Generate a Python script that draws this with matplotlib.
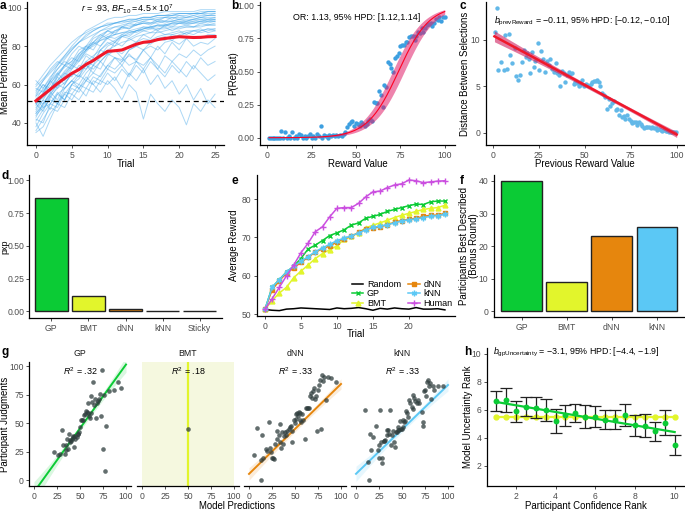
import matplotlib
matplotlib.use('Agg')
import matplotlib.pyplot as plt
import numpy as np

plt.rcParams['font.family'] = ['Liberation Sans', 'DejaVu Sans']
plt.rcParams['mathtext.fontset'] = 'custom'
plt.rcParams['mathtext.rm'] = 'Liberation Sans'
plt.rcParams['mathtext.it'] = 'Liberation Sans:italic'
plt.rcParams['mathtext.bf'] = 'Liberation Sans:bold'

# ---- colours
C_GP = '#0BCB35'
C_BMT = '#E2F52C'
C_DNN = '#E6860D'
C_KNN = '#5BC8F5'
C_HUM = '#CB4FE0'
C_RED = '#F0182A'

# ---- panel a: individual learning curves + mean
trials_a = list(range(26))
subject_curves = [
    [52, 58, 63, 70, 75, 80, 84, 88, 90, 92, 94, 95, 95, 96, 96, 97, 97, 97, 98, 98, 98, 98, 98, 99, 99, 99],
    [45, 50, 55, 60, 66, 70, 74, 78, 82, 85, 88, 90, 91, 92, 93, 94, 94, 95, 95, 96, 96, 96, 97, 97, 97, 97],
    [55, 60, 58, 65, 70, 72, 78, 80, 85, 88, 90, 92, 93, 93, 94, 95, 95, 96, 96, 96, 97, 97, 97, 97, 98, 98],
    [38, 45, 50, 48, 55, 60, 63, 68, 72, 75, 80, 82, 85, 86, 88, 89, 90, 91, 91, 92, 92, 93, 93, 93, 94, 94],
    [60, 65, 70, 74, 78, 82, 85, 87, 89, 90, 91, 92, 92, 93, 93, 94, 94, 94, 95, 95, 95, 95, 95, 96, 96, 96],
    [48, 52, 47, 55, 58, 62, 60, 66, 70, 68, 75, 78, 76, 80, 82, 84, 83, 85, 86, 86, 87, 88, 88, 88, 89, 89],
    [42, 40, 50, 55, 52, 60, 65, 62, 70, 74, 78, 80, 82, 83, 85, 86, 87, 87, 88, 89, 89, 90, 90, 90, 91, 91],
    [50, 55, 62, 58, 65, 70, 68, 75, 72, 78, 82, 80, 85, 84, 86, 88, 87, 89, 90, 88, 90, 91, 90, 92, 91, 92],
    [35, 38, 45, 50, 55, 52, 58, 62, 60, 65, 70, 68, 72, 75, 73, 78, 80, 78, 82, 83, 81, 84, 85, 84, 86, 86],
    [56, 62, 68, 72, 70, 76, 80, 78, 84, 86, 88, 87, 90, 89, 91, 92, 91, 93, 92, 93, 94, 93, 94, 95, 94, 95],
    [44, 48, 52, 50, 56, 55, 60, 58, 64, 62, 68, 66, 70, 65, 72, 70, 74, 68, 75, 72, 76, 74, 78, 75, 78, 80],
    [52, 50, 55, 60, 58, 62, 66, 70, 68, 72, 76, 74, 73, 78, 80, 82, 81, 84, 85, 83, 86, 87, 86, 88, 89, 88],
    [47, 55, 60, 66, 62, 68, 72, 76, 74, 80, 84, 82, 86, 85, 88, 90, 89, 91, 90, 92, 93, 92, 93, 94, 93, 94],
    [40, 33, 42, 50, 48, 55, 52, 58, 56, 62, 60, 64, 58, 66, 62, 68, 60, 65, 58, 62, 55, 60, 52, 58, 50, 55],
    [58, 56, 62, 66, 70, 74, 72, 78, 82, 80, 85, 84, 86, 88, 87, 89, 90, 88, 91, 90, 92, 91, 92, 93, 92, 93],
    [50, 54, 58, 62, 66, 64, 70, 68, 74, 72, 76, 78, 74, 70, 72, 68, 74, 70, 66, 72, 68, 64, 70, 66, 62, 65],
    [62, 58, 64, 68, 72, 70, 76, 80, 82, 86, 84, 88, 90, 89, 92, 93, 92, 94, 93, 95, 94, 95, 96, 95, 96, 96],
    [36, 42, 48, 46, 52, 58, 56, 62, 66, 64, 70, 74, 72, 78, 80, 78, 82, 84, 83, 86, 85, 87, 88, 87, 88, 89],
    [54, 60, 56, 64, 60, 66, 64, 70, 66, 72, 68, 74, 70, 76, 72, 78, 74, 80, 76, 82, 78, 84, 80, 82, 81, 84],
    [46, 52, 58, 64, 70, 68, 74, 80, 78, 84, 88, 86, 90, 92, 91, 93, 94, 93, 95, 94, 96, 95, 96, 97, 96, 97],
    [50, 46, 54, 50, 58, 62, 58, 64, 60, 56, 62, 58, 52, 60, 56, 42, 55, 50, 46, 52, 48, 39, 50, 46, 52, 48],
    [53, 48, 50, 56, 52, 60, 58, 54, 62, 60, 66, 62, 68, 64, 70, 66, 72, 68, 64, 70, 66, 72, 68, 74, 70, 72],
    [43, 50, 56, 52, 60, 66, 64, 72, 70, 78, 76, 82, 80, 84, 82, 86, 84, 88, 86, 87, 88, 86, 88, 89, 87, 88],
    [57, 62, 66, 70, 74, 78, 82, 86, 88, 90, 92, 92, 93, 94, 94, 95, 95, 96, 96, 96, 97, 97, 97, 97, 98, 98],
    [49, 56, 62, 68, 73, 78, 82, 85, 88, 90, 91, 92, 93, 94, 94, 95, 95, 96, 96, 97, 97, 97, 97, 98, 98, 98],
    [41, 47, 53, 59, 64, 69, 73, 77, 81, 84, 86, 88, 89, 90, 91, 92, 92, 93, 93, 93, 94, 94, 94, 95, 95, 95],
    [59, 63, 67, 71, 75, 79, 82, 84, 86, 88, 89, 90, 90, 91, 91, 92, 92, 92, 93, 93, 93, 93, 94, 94, 94, 94],
    [51, 53, 57, 62, 67, 71, 75, 78, 80, 83, 85, 86, 87, 88, 89, 90, 90, 91, 91, 92, 92, 92, 92, 93, 93, 93],
    [45, 49, 54, 58, 61, 65, 68, 72, 75, 78, 81, 83, 85, 87, 88, 89, 90, 90, 91, 91, 92, 92, 92, 92, 93, 93],
    [54, 57, 61, 65, 69, 72, 76, 79, 81, 83, 84, 86, 87, 87, 88, 88, 89, 89, 89, 90, 90, 90, 90, 91, 91, 91],
]
mean_curve = [51.5, 54.5, 57.5, 60.5, 63.2, 65.8, 67.8, 70.5, 72.5, 75.0, 77.3, 77.6, 78.0, 79.5,
              81.0, 82.0, 82.4, 83.4, 84.0, 84.5, 84.9, 84.7, 84.5, 84.6, 84.9, 85.0]
chance_a = 51.6

# ---- panel b: P(repeat) vs reward
reward_b = list(range(1, 101))
prepeat_b = [0, 0, 0, 0, 0, 0, 0, 0.05, 0, 0.04, 0, 0.01, 0, 0.04, 0, 0.01, 0, 0.03, 0.02, 0,
             0.01, 0, 0.01, 0.03, 0, 0.01, 0, 0.03, 0.01, 0.09, 0, 0.02, 0.01, 0, 0.02, 0.01, 0.02, 0.01, 0.02, 0.01,
             0.02, 0.01, 0.03, 0.04, 0.08, 0.10, 0.12, 0.13, 0.09, 0.11, 0.10, 0.09, 0.12, 0.10, 0.09, 0.10, 0.13, 0.14, 0.13, 0.27,
             0.26, 0.26, 0.35, 0.32, 0.23, 0.40, 0.38, 0.57, 0.56, 0.53, 0.50, 0.60, 0.62, 0.64, 0.69, 0.70, 0.70, 0.72, 0.72, 0.76,
             0.77, 0.77, 0.74, 0.77, 0.80, 0.79, 0.83, 0.80, 0.83, 0.85, 0.86, 0.87, 0.84, 0.87, 0.90, 0.89, 0.91, 0.88, 0.91, 0.91]
b_intercept, b_slope, b_ci = -8.5, 0.115, 0.38

# ---- panel c: distance vs previous reward
prev_reward_c = [1.5, 2.4, 3, 4.5, 6, 6.5, 8, 8.7, 9.6, 10.5, 12.3, 12.7, 13.8, 15, 16, 17, 18, 18.7, 19.6, 20.5,
                 21.4, 22.3, 23.2, 24.5, 25.4, 26.3, 27.4, 28.3, 29.6, 30.5, 31.4, 32.3, 33.2, 34.3, 35, 36, 36.8, 37.7, 38.7, 39.6,
                 40.5, 41.4, 42.3, 43.2, 44.1, 45, 46, 46.8, 47.7, 48.6, 49.5, 50.5, 51.4, 52.3, 53.2, 54, 55, 56, 56.8, 57.7,
                 58.6, 59.5, 60.4, 61.3, 62.2, 63.2, 64, 65, 65.9, 66.8, 67.7, 68.6, 69.5, 70.4, 71.3, 72.2, 73.1, 74, 75, 75.9,
                 76.8, 77.7, 78.6, 79.5, 80.4, 81.3, 82.2, 83.1, 84, 85, 85.8, 86.8, 87.7, 88.6, 89.5, 90.4, 91.3, 92.2, 93.1, 94,
                 95, 95.8, 96.7, 97.6, 98.5, 99.5]
distance_c = [10.9, 13.5, 6.8, 7.6, 6.8, 10.5, 6.9, 10.7, 8.4, 7.5, 9.1, 6.1, 5.7, 6.2, 7.6, 8.9, 8.2, 8.6, 7.9, 6.4,
              8.7, 7.1, 7.7, 9.7, 6.8, 8.8, 8.0, 6.6, 7.7, 7.3, 8.0, 6.9, 6.6, 7.5, 6.4, 6.2, 5.0, 6.7, 6.4, 5.5,
              6.2, 6.6, 6.3, 6.4, 5.3, 5.5, 5.4, 5.0, 5.1, 5.7, 5.0, 5.3, 5.1, 5.0, 5.3, 5.5, 5.6, 5.6, 5.7, 5.5,
              5.0, 4.3, 4.1, 3.9, 2.6, 3.6, 2.9, 3.2, 3.4, 2.5, 2.6, 1.9, 2.5, 1.7, 1.8, 1.5, 1.9, 1.5, 1.3, 1.0,
              1.2, 1.1, 0.8, 1.2, 0.9, 0.7, 0.5, 0.65, 0.6, 0.65, 0.5, 0.6, 0.5, 0.5, 0.3, 0.35, 0.3, 0.2, 0.3, 0.2,
              0.2, 0.1, 0.1, 0.1, 0.1, 0.1]
c_intercept, c_slope = 10.5, -0.107

# ---- panel d: protected exceedance probabilities
models_d = ['GP', 'BMT', 'dNN', 'kNN', 'Sticky']
pxp_d = [0.865, 0.115, 0.022, 0.002, 0.002]
colors_d = [C_GP, C_BMT, C_DNN, C_KNN, '#FFFFFF']

# ---- panel e: average reward per trial
trials_e = list(range(26))
reward_random = [51.2, 51.0, 50.9, 51.3, 51.4, 51.6, 51.5, 51.4, 51.3, 51.2, 51.6, 51.4, 51.5, 51.7, 51.4, 51.0,
                 51.5, 51.3, 51.6, 51.4, 51.3, 51.7, 51.3, 51.3, 51.4, 51.1]
reward_gp = [51.2, 57.0, 59.0, 61.0, 62.5, 64.5, 67.0, 68.0, 69.2, 70.5, 71.2, 72.0, 73.2, 73.8, 75.0, 75.5,
             76.0, 76.8, 77.3, 77.8, 78.3, 78.7, 78.6, 79.3, 79.5, 79.5]
reward_bmt = [51.2, 53.5, 55.5, 57.0, 59.5, 61.2, 62.8, 64.5, 65.8, 66.8, 67.8, 69.5, 70.3, 71.2, 72.5, 73.2,
              73.8, 74.5, 75.2, 75.8, 76.3, 76.8, 77.3, 77.6, 77.8, 78.4]
reward_dnn = [51.2, 56.3, 58.7, 60.7, 62.0, 63.5, 64.8, 66.2, 67.0, 67.8, 68.8, 69.7, 70.3, 71.3, 72.2, 72.5,
              72.8, 73.3, 74.0, 74.4, 74.7, 75.0, 75.5, 75.8, 75.8, 76.3]
reward_knn = [51.2, 57.0, 59.0, 61.0, 62.5, 63.8, 65.0, 66.3, 67.3, 68.2, 69.2, 69.8, 70.4, 71.2, 72.0, 72.6,
              73.0, 73.3, 73.8, 74.3, 74.6, 74.8, 75.2, 75.5, 75.7, 76.0]
reward_human = [51.2, 54.0, 57.0, 60.0, 62.8, 66.0, 68.5, 71.5, 72.8, 75.4, 77.6, 77.8, 77.8, 78.9, 80.6, 81.9,
                82.1, 83.0, 83.7, 84.0, 85.0, 84.8, 84.3, 84.5, 84.7, 84.8]

# ---- panel f: participants best described
models_f = ['GP', 'BMT', 'dNN', 'kNN']
counts_f = [40, 9, 23, 26]
colors_f = [C_GP, C_BMT, C_DNN, C_KNN]

# ---- panel g: model predictions vs participant judgments
gp_pred = [21.8, 26.2, 28.7, 30.5, 31.6, 33.5, 34.5, 35.3, 36.4, 37.1, 37.8, 38.9, 39.6, 40.7, 41.5, 42.2, 42.9, 43.6,
           44.4, 45.1, 46.2, 47.3, 48.0, 48.7, 49.8, 50.9, 52.0, 53.1, 54.2, 55.3, 56.4, 57.1, 58.2, 58.9, 60.0, 60.7,
           61.5, 62.5, 63.3, 64.0, 65.1, 66.2, 66.9, 68.0, 69.1, 70.2, 71.6, 72.7, 74.2, 74.5, 75.6, 77.5, 78.2, 81.8,
           86.9, 91.6, 94.2]
gp_judg = [24.9, 22.0, 22.9, 44.4, 31.2, 22.9, 30.7, 26.4, 35.8, 27.2, 40.7, 33.5, 35.0, 34.1, 36.4, 38.4, 37.5, 29.2,
           38.7, 36.4, 37.8, 40.4, 40.7, 42.1, 46.4, 53.0, 53.0, 53.0, 57.0, 57.9, 60.7, 60.2, 58.7, 67.3, 56.4, 54.2,
           59.3, 74.2, 68.8, 86.5, 65.6, 71.6, 54.4, 67.3, 69.3, 71.3, 75.6, 56.4, 97.1, 26.9, 74.8, 8.3, 47.6, 78.5,
           79.4, 85.7, 80.8]
bmt_pred = [50.0]
bmt_judg = [45.0]
dnn_pred = [5.4, 9.0, 12.6, 12.9, 14.4, 15.5, 18.0, 19.8, 21.9, 22.7, 23.7, 25.2, 26.3, 27.3, 28.8, 29.9, 30.9, 32.4,
            33.5, 34.2, 35.3, 36.3, 37.1, 38.1, 39.6, 40.6, 41.7, 43.2, 44.2, 45.3, 46.4, 47.1, 48.6, 49.6, 50.7, 51.4,
            52.5, 53.2, 54.0, 55.0, 55.8, 56.8, 57.9, 58.6, 60.4, 61.5, 62.9, 64.0, 65.1, 65.8, 66.9, 68.3, 69.4, 70.5,
            71.9, 73.0, 73.7, 74.8, 75.9, 77.3, 78.4, 79.5, 80.9, 82.0, 83.8, 85.6, 89.2, 94.6]
dnn_judg = [22.0, 45.8, 17.8, -0.3, 39.8, 19.8, 27.2, 25.5, 50.7, 27.8, 24.4, 19.2, 19.2, 18.6, 32.1, 42.7, 36.4, 39.3,
            33.5, 49.3, 27.8, 42.1, 32.1, 38.7, 42.1, 39.8, 42.7, 45.0, 46.4, 47.9, 43.0, 33.5, 53.0, 50.1, 57.9, 53.6,
            59.3, 56.4, 59.9, 53.0, 58.5, 50.7, 57.9, 53.0, 35.8, 63.6, 63.6, 63.6, 63.6, 73.6, 76.5, 72.2, 77.9, 80.8,
            70.8, 73.6, 42.7, 79.4, 83.7, 88.0, 45.0, 92.3, 87.4, 90.8, 70.5, 90.8, 90.0, 85.7]
knn_pred = [10.1, 12.6, 14.0, 14.7, 16.2, 18.3, 21.6, 23.4, 24.5, 25.2, 26.3, 27.3, 28.1, 28.8, 29.9, 30.9, 32.0, 33.5,
            34.2, 35.3, 36.3, 37.1, 38.1, 39.2, 39.9, 41.0, 42.1, 43.2, 44.2, 45.3, 46.0, 47.1, 47.8, 48.9, 49.6, 50.7,
            51.4, 52.5, 53.6, 54.7, 55.8, 56.8, 57.9, 59.0, 60.4, 61.5, 62.2, 63.3, 64.4, 65.8, 66.9, 68.7, 71.2, 72.3,
            73.0, 74.1, 75.2, 75.9, 77.3, 78.4, 79.5, 80.2, 82.0, 83.8, 84.9, 89.2, 94.6]
knn_judg = [61.6, 16.3, -0.3, 40.7, 26.4, 38.1, 47.9, 26.4, 30.7, 19.2, 61.6, 33.5, 14.9, 19.2, 34.1, 34.1, 35.0, 39.3,
            44.4, 44.4, 40.7, 61.6, 31.2, 39.3, 42.7, 33.5, 29.2, 42.1, 42.1, 43.6, 46.4, 43.6, 52.1, 45.0, 45.0, 53.0,
            46.4, 51.3, 52.1, 60.7, 59.3, 55.0, 69.9, 67.9, 64.5, 62.2, 75.1, 72.2, 69.3, 67.9, 70.2, 67.9, 59.9, 47.9,
            50.7, 77.9, 79.4, 74.2, 85.7, 88.0, 82.2, 85.1, 70.8, 82.2, 79.4, 82.8, 82.2]
# fitted line: intercept, slope, half width of ribbon at the ends
fits_g = {'GP': (-10.5, 1.12, 8.0), 'dNN': (5.4, 0.79, 5.0), 'kNN': (5.5, 0.78, 6.0)}
r2_g = {'GP': '.32', 'BMT': '.18', 'dNN': '.33', 'kNN': '.33'}

# ---- panel h: confidence rank vs model uncertainty rank
conf_rank = [1, 1.5, 2, 2.5, 3, 3.5, 4, 4.5, 5, 5.5, 6, 6.5, 7, 7.5, 8, 8.5, 9, 9.5, 10]
unc_rank = [6.6, 6.7, 5.9, 6.2, 6.15, 6.0, 5.2, 5.6, 5.75, 5.5, 5.5, 5.27, 5.27, 5.6, 4.87, 4.85, 4.45, 5.08, 3.47]
unc_err = [0.73, 0.85, 0.75, 0.67, 0.75, 0.78, 0.85, 0.75, 0.62, 0.8, 0.75, 0.67, 0.67, 0.77, 0.78, 0.82, 0.7, 0.88, 0.7]
h_intercept, h_slope = 6.79, -0.239
random_rank = 5.5

W, H = 685, 512
fig = plt.figure(figsize=(W / 100, H / 100), dpi=100)

LAB = 6.9    # axis titles
TICK = 6.2   # tick labels
ANN = 6.4    # annotations


def px_axes(l, t, r, b):
    ax = fig.add_axes([l / W, 1 - b / H, (r - l) / W, (b - t) / H])
    ax.px = (l, t, r, b)
    return ax


def classic(ax, left=True):
    ax.spines['top'].set_visible(False)
    ax.spines['right'].set_visible(False)
    ax.spines['bottom'].set_linewidth(0.9)
    ax.spines['left'].set_linewidth(0.9)
    ax.tick_params(direction='out', length=2.5, width=0.6, labelsize=TICK,
                   labelcolor='#4D4D4D', color='#333333', pad=1.5)
    if not left:
        ax.spines['left'].set_visible(False)
        ax.tick_params(axis='y', left=False, labelleft=False)


def ylab(ax, text, xpx, **kw):
    # xpx = right edge of the rotated label, in pixels
    l, t, r, b = ax.px
    kw.setdefault('fontsize', LAB)
    ax.set_ylabel(text, **kw)
    ax.yaxis.set_label_coords((xpx - l) / (r - l), 0.5)


def xlab(ax, text, ypx):
    # ypx = top edge of the label, in pixels
    l, t, r, b = ax.px
    ax.set_xlabel(text, fontsize=LAB)
    ax.xaxis.set_label_coords(0.5, (b - ypx) / (b - t))


def letter(x, y, s):
    fig.text(x / W, 1 - y / H, s, fontsize=8.5, fontweight='bold', ha='left', va='center')


# ---------------- a
ax = px_axes(27, 2, 224, 145)
classic(ax)
for curve in subject_curves:
    ax.plot(trials_a, curve, color='#3AA2E8', alpha=0.42, lw=0.7)
ax.axhline(chance_a, color='black', ls=(0, (4, 3)), lw=0.9)
ax.plot(trials_a, mean_curve, color=C_RED, lw=2.2)
ax.set_xlim(-1.25, 26.25)
ax.set_ylim(28.5, 103)
ax.set_xticks([0, 5, 10, 15, 20, 25])
ax.set_yticks([40, 60, 80, 100])
xlab(ax, 'Trial', 159)
ylab(ax, 'Mean Performance', 10)
ax.text(12.8, 99.5, r'$r$ = .93, $BF_{10} = 4.5\times10^{7}$', fontsize=ANN, ha='center', va='center')
letter(0, 6, 'a')

# ---------------- b
ax = px_axes(260, 2, 455, 145)
classic(ax)
ax.scatter(reward_b, prepeat_b, s=10, color='#3D9FE0', linewidths=0, zorder=2)
xs = np.linspace(1, 100, 200)
p_mid = 1 / (1 + np.exp(-(b_intercept + b_slope * xs)))
p_lo = 1 / (1 + np.exp(-(b_intercept - b_ci + b_slope * xs)))
p_hi = 1 / (1 + np.exp(-(b_intercept + b_ci + b_slope * xs)))
ax.fill_between(xs, p_lo, p_hi, color='#E0206A', alpha=0.55, lw=0, zorder=3)
ax.plot(xs, p_mid, color='#FF0022', lw=0.8, zorder=4)
ax.set_xlim(-4.1, 105.8)
ax.set_ylim(-0.055, 1.025)
ax.set_xticks([0, 25, 50, 75, 100])
ax.set_yticks([0, 0.25, 0.5, 0.75, 1.0])
ax.set_yticklabels(['0.00', '0.25', '0.50', '0.75', '1.00'])
xlab(ax, 'Reward Value', 159)
ylab(ax, 'P(Repeat)', 238)
ax.text(50.5, 0.905, 'OR: 1.13, 95% HPD: [1.12,1.14]', fontsize=ANN, ha='center', va='center')
letter(231, 6, 'b')

# ---------------- c
ax = px_axes(486, 2, 684, 145)
classic(ax)
ax.scatter(prev_reward_c, distance_c, s=10, color='#62B8E8', linewidths=0, zorder=2)
xs = np.linspace(1, 100, 100)
line_c = c_intercept + c_slope * xs
hw = 0.2 + 0.4 * ((xs - 65) / 65) ** 2
ax.fill_between(xs, line_c - hw, line_c + hw, color='#D02060', alpha=0.6, lw=0, zorder=3)
ax.plot(xs, line_c, color=C_RED, lw=1.8, zorder=4)
ax.set_xlim(-3.6, 104)
ax.set_ylim(-1.33, 14.1)
ax.set_xticks([0, 25, 50, 75, 100])
ax.set_yticks([0, 5, 10])
xlab(ax, 'Previous Reward Value', 159)
ylab(ax, 'Distance Between Selections', 470)
ax.text(0.8, 12.05, r'$b_{\mathrm{prevReward}}$ = −0.11, 95% HPD: [−0.12, −0.10]', fontsize=ANN,
        ha='left', va='center')
letter(459, 6, 'c')

# ---------------- d
ax = px_axes(29, 175, 222, 318)
classic(ax)
ax.tick_params(axis='y', pad=0.6)
ax.bar(range(1, 6), pxp_d, width=0.9, color=colors_d, edgecolor='#222222', linewidth=1)
ax.set_xlim(0.4, 5.6)
ax.set_ylim(-0.05, 1.04)
ax.set_xticks(range(1, 6))
ax.set_xticklabels(models_d)
ax.set_yticks([0, 0.25, 0.5, 0.75, 1.0])
ax.set_yticklabels(['0.00', '0.25', '0.50', '0.75', '1.00'])
ylab(ax, 'pxp', 9.5, fontsize=6.5)
letter(1, 176, 'd')

# ---------------- e
ax = px_axes(257, 175, 455, 316)
classic(ax)
ax.plot(trials_e, reward_random, color='black', lw=1.1, label='Random')
ax.plot(trials_e, reward_gp, color=C_GP, lw=1.1, marker='x', ms=3, mew=1, label='GP')
ax.plot(trials_e, reward_bmt, color=C_BMT, lw=1.1, marker='^', ms=3.5, label='BMT')
ax.plot(trials_e, reward_dnn, color=C_DNN, lw=1.1, marker='s', ms=3.5, label='dNN')
ax.plot(trials_e, reward_knn, color=C_KNN, lw=1.1, marker=(6, 2, 0), ms=4, mew=1, label='kNN')
ax.plot(trials_e, reward_human, color=C_HUM, lw=1.1, marker='+', ms=5, mew=1, label='Human')
ax.set_xlim(-1.1, 26.4)
ax.set_ylim(49.5, 86.3)
ax.set_xticks([0, 5, 10, 15, 20])
ax.set_yticks([50, 60, 70, 80])
xlab(ax, 'Trial', 329)
ylab(ax, 'Average Reward', 239)
ax.legend(ncol=2, loc='lower right', bbox_to_anchor=(1.03, 0.0), frameon=False, fontsize=6.5,
          handlelength=1.3, columnspacing=0.8, labelspacing=0.05, handletextpad=0.4)
letter(231, 181, 'e')

# ---------------- f
ax = px_axes(494, 175, 684, 317)
classic(ax)
ax.bar(range(1, 5), counts_f, width=0.9, color=colors_f, edgecolor='#222222', linewidth=1)
ax.set_xlim(0.39, 4.6)
ax.set_ylim(-1.7, 41.8)
ax.set_xticks(range(1, 5))
ax.set_xticklabels(models_f)
ax.set_yticks([0, 10, 20, 30, 40])
ylab(ax, 'Participants Best Described\n(Bonus Round)', 479, linespacing=0.95)
letter(460, 181, 'f')

# ---------------- g
G_TOP, G_BOT = 362, 486
facets = [('GP', gp_pred, gp_judg, C_GP, 29.4), ('BMT', bmt_pred, bmt_judg, C_BMT, 137.4),
          ('dNN', dnn_pred, dnn_judg, C_DNN, 244.4), ('kNN', knn_pred, knn_judg, C_KNN, 351.4)]
for name, xp, yj, col, left in facets:
    ax = px_axes(left, G_TOP, left + 101.2, G_BOT)
    classic(ax, left=(name == 'GP'))
    if name == 'BMT':
        ax.axvspan(0, 100, color='#F5F8DF', lw=0, zorder=0)
        ax.axvline(50, color=col, lw=1.6, zorder=2)
    else:
        b0, b1, hw_end = fits_g[name]
        xs = np.linspace(0, 100, 100)
        yl = b0 + b1 * xs
        hw = 2.5 + (hw_end - 2.5) * ((xs - 55) / 50) ** 2
        ax.fill_between(xs, yl - hw, yl + hw, color=col, alpha=0.15, lw=0, zorder=1)
        ax.plot(xs, yl, color=col, lw=1.4, zorder=2)
    ax.scatter(xp, yj, s=11, color='#2F3D3D', alpha=0.75, linewidths=0, zorder=3)
    ax.set_xlim(-5, 105)
    ax.set_ylim(-5.2, 103.7)
    ax.set_xticks([0, 25, 50, 75, 100])
    ax.set_yticks([0, 25, 50, 75, 100])
    ax.text(50, 96, r'$R^2$ = ' + r2_g[name], fontsize=ANN, ha='center', va='center', zorder=4)
    ax.text(0.5, 1.065, name, transform=ax.transAxes, fontsize=6.3, color='#1A1A1A',
            ha='center', va='center')
    if name == 'GP':
        ylab(ax, 'Participant Judgments', 10)
fig.text(237 / W, 1 - 506 / H, 'Model Predictions', fontsize=LAB, ha='center', va='center')
letter(1, 352, 'g')

# ---------------- h
ax = px_axes(487, 348, 684, G_BOT)
classic(ax)
ax.plot(conf_rank, [random_rank] * len(conf_rank), color=C_BMT, lw=1.6, marker='o', ms=3.5, zorder=2)
ax.errorbar(conf_rank, unc_rank, yerr=unc_err, fmt='none', ecolor='#222222', elinewidth=0.9,
            capsize=4, capthick=0.9, zorder=3)
xs = np.array([1, 10])
ax.plot(xs, h_intercept + h_slope * xs, color=C_GP, lw=1.6, zorder=4)
ax.scatter(conf_rank, unc_rank, s=18, color=C_GP, linewidths=0, zorder=5)
ax.set_xlim(0.55, 10.47)
ax.set_ylim(0.55, 10.4)
ax.set_xticks([2, 4, 6, 8, 10])
ax.set_yticks([2, 4, 6, 8, 10])
xlab(ax, 'Participant Confidence Rank', 501)
ylab(ax, 'Model Uncertainty Rank', 473)
ax.text(0.85, 10.05, r'$b_{\mathrm{gpUncertainty}}$ = −3.1, 95% HPD: [−4.4, −1.9]', fontsize=ANN,
        ha='left', va='center')
letter(464, 352, 'h')

fig.savefig('out.png', dpi=100)
